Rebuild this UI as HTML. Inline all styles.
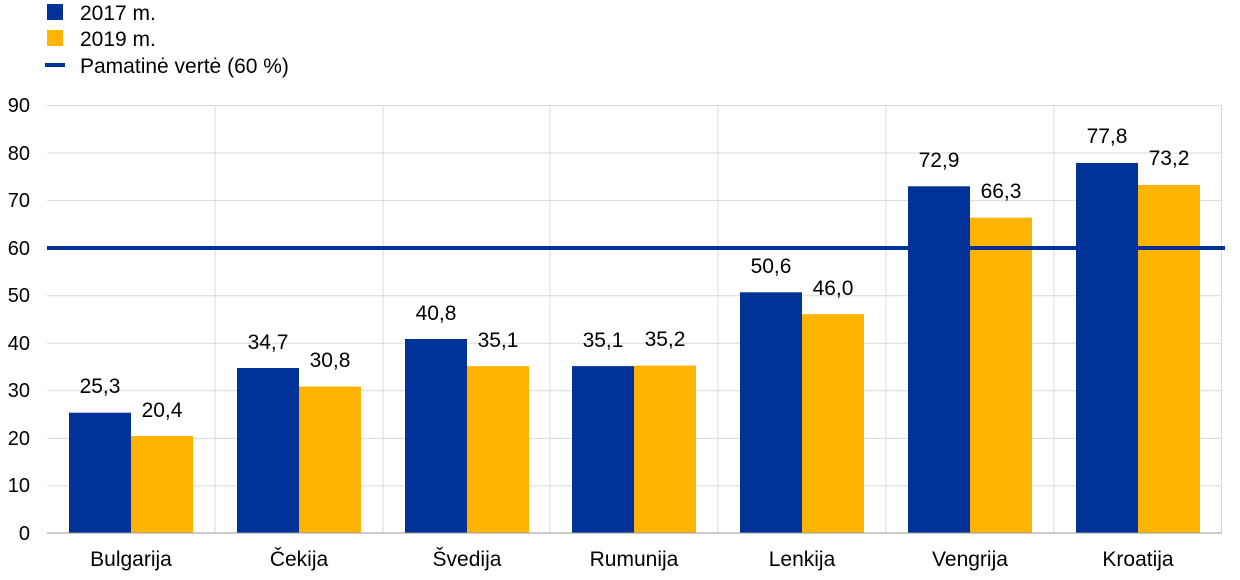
<!DOCTYPE html>
<html><head><meta charset="utf-8"><style>
html,body{margin:0;padding:0;background:#fff;}
svg{display:block;font-family:"Liberation Sans",Arial,sans-serif;}
</style></head><body>
<svg width="1240" height="580" viewBox="0 0 1240 580" xmlns="http://www.w3.org/2000/svg">
<rect x="47" y="4" width="16" height="16" fill="#003299"/>
<text x="80" y="20" font-size="21" fill="#000">2017 m.</text>
<rect x="47" y="30" width="16" height="16" fill="#FFB400"/>
<text x="80" y="46" font-size="21" fill="#000">2019 m.</text>
<rect x="45" y="63" width="20" height="4" fill="#003299"/>
<text x="80" y="73" font-size="21" fill="#000">Pamatinė vertė (60 %)</text>
<g stroke="#d9d9d9" stroke-width="1">
<line x1="47" y1="105.5" x2="1222" y2="105.5"/>
<line x1="47" y1="153" x2="1222" y2="153"/>
<line x1="47" y1="200.6" x2="1222" y2="200.6"/>
<line x1="47" y1="295.7" x2="1222" y2="295.7"/>
<line x1="47" y1="343.2" x2="1222" y2="343.2"/>
<line x1="47" y1="390.8" x2="1222" y2="390.8"/>
<line x1="47" y1="438.4" x2="1222" y2="438.4"/>
<line x1="47" y1="485.9" x2="1222" y2="485.9"/>
<line x1="215" y1="105" x2="215" y2="533"/>
<line x1="383" y1="105" x2="383" y2="533"/>
<line x1="550" y1="105" x2="550" y2="533"/>
<line x1="718" y1="105" x2="718" y2="533"/>
<line x1="886" y1="105" x2="886" y2="533"/>
<line x1="1054" y1="105" x2="1054" y2="533"/>
<line x1="1221.5" y1="105" x2="1221.5" y2="533"/>
</g>
<g font-size="20" text-anchor="end" fill="#000">
<text x="30" y="112">90</text><text x="30" y="160">80</text><text x="30" y="207">70</text>
<text x="30" y="255">60</text><text x="30" y="302">50</text><text x="30" y="350">40</text>
<text x="30" y="397">30</text><text x="30" y="445">20</text><text x="30" y="492">10</text>
<text x="30" y="540">0</text>
</g>
<g>
<rect x="69" y="412.7" width="62" height="120.3" fill="#003299"/><rect x="131" y="436" width="62" height="97" fill="#FFB400"/>
<rect x="237" y="368" width="62" height="165" fill="#003299"/><rect x="299" y="386.5" width="62" height="146.5" fill="#FFB400"/>
<rect x="405" y="339" width="62" height="194" fill="#003299"/><rect x="467" y="366.1" width="62" height="166.9" fill="#FFB400"/>
<rect x="572" y="366.1" width="62" height="166.9" fill="#003299"/><rect x="634" y="365.6" width="62" height="167.4" fill="#FFB400"/>
<rect x="740" y="292.3" width="62" height="240.7" fill="#003299"/><rect x="802" y="314.2" width="62" height="218.8" fill="#FFB400"/>
<rect x="908" y="186.3" width="62" height="346.7" fill="#003299"/><rect x="970" y="217.7" width="62" height="315.3" fill="#FFB400"/>
<rect x="1076" y="163" width="62" height="370" fill="#003299"/><rect x="1138" y="184.9" width="62" height="348.1" fill="#FFB400"/>
</g>
<line x1="47" y1="533" x2="1222" y2="533" stroke="#999" stroke-width="1"/>
<rect x="47" y="246" width="1178" height="4" fill="#003299"/>
<g font-size="21" text-anchor="middle" fill="#000">
<text x="100" y="393">25,3</text><text x="162" y="417">20,4</text>
<text x="268" y="349">34,7</text><text x="330" y="367">30,8</text>
<text x="436" y="320">40,8</text><text x="498" y="347">35,1</text>
<text x="603" y="347">35,1</text><text x="665" y="346">35,2</text>
<text x="771" y="273">50,6</text><text x="833" y="295">46,0</text>
<text x="939" y="167">72,9</text><text x="1001" y="198">66,3</text>
<text x="1107" y="143">77,8</text><text x="1169" y="165">73,2</text>
</g>
<g font-size="21" text-anchor="middle" fill="#000">
<text x="131" y="566">Bulgarija</text><text x="299" y="566">Čekija</text>
<text x="467" y="566">Švedija</text><text x="634" y="566">Rumunija</text>
<text x="802" y="566">Lenkija</text><text x="970" y="566">Vengrija</text>
<text x="1138" y="566">Kroatija</text>
</g>
</svg>
</body></html>
